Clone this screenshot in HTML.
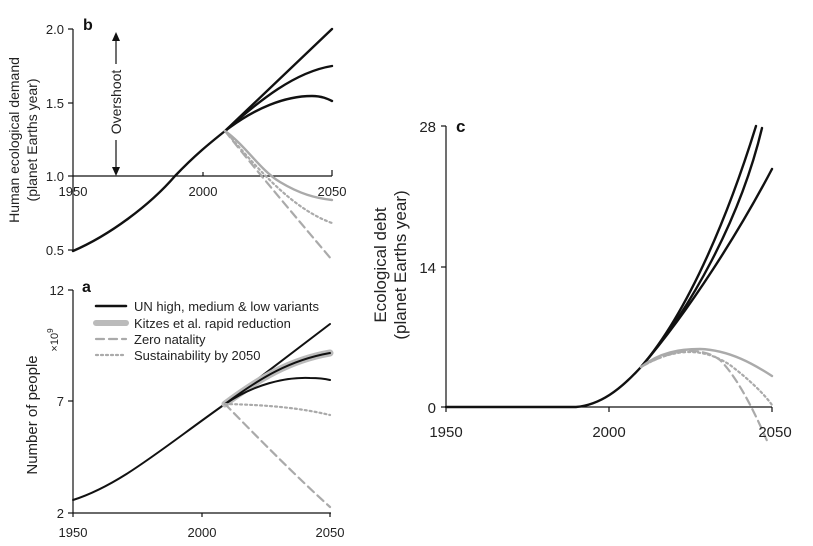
<!DOCTYPE html>
<html><head><meta charset="utf-8"><style>
body{margin:0;background:#fff}
svg{display:block;font-family:"Liberation Sans",sans-serif}
</style></head><body>
<svg width="813" height="546" viewBox="0 0 813 546">
<g fill="none" stroke="#111" stroke-width="1.2">
<line x1="73" y1="29" x2="73" y2="251"/>
<line x1="68" y1="29" x2="73" y2="29"/><line x1="68" y1="103" x2="73" y2="103"/><line x1="68" y1="176" x2="73" y2="176"/><line x1="68" y1="250" x2="73" y2="250"/>
<line x1="73" y1="176" x2="332" y2="176"/>
<line x1="203" y1="176" x2="203" y2="172"/><line x1="332" y1="176" x2="332" y2="170"/>
<line x1="73" y1="290" x2="73" y2="513"/><line x1="73" y1="513" x2="331" y2="513"/>
<line x1="68" y1="290" x2="73" y2="290"/><line x1="68" y1="401" x2="73" y2="401"/><line x1="68" y1="513" x2="73" y2="513"/>
<line x1="202" y1="513" x2="202" y2="517"/><line x1="330" y1="513" x2="330" y2="517"/><line x1="73" y1="513" x2="73" y2="517"/>
<line x1="446" y1="126" x2="446" y2="408"/><line x1="446" y1="407" x2="772" y2="407"/>
<line x1="441" y1="126" x2="446" y2="126"/><line x1="441" y1="267" x2="446" y2="267"/><line x1="441" y1="407" x2="446" y2="407"/>
<line x1="609" y1="407" x2="609" y2="412"/><line x1="772" y1="407" x2="772" y2="412"/><line x1="446" y1="407" x2="446" y2="412"/>
<line x1="116" y1="38" x2="116" y2="64"/><line x1="116" y1="140" x2="116" y2="168"/>
</g>
<polygon points="116,32 112,41 120,41" fill="#111"/>
<polygon points="116,176 112,167 120,167" fill="#111"/>
<text transform="translate(121,102) rotate(-90)" text-anchor="middle" font-size="14" fill="#222">Overshoot</text>

<g fill="none" stroke-linecap="round">
<path d="M73,251 C110,235 150,205 175,176 C195,155 210,143 225,131 L332,29" stroke="#111" stroke-width="2.4"/>
<path d="M225,131 C260,100 295,72 332,66" stroke="#111" stroke-width="2.4"/>
<path d="M225,131 C255,108 285,96 312,96 C322,96 328,99 332,101" stroke="#111" stroke-width="2.4"/>
<path d="M225,131 C245,145 260,170 280,182 C300,194 315,198 332,200" stroke="#aaa" stroke-width="2.4"/>
<path d="M225,131 C255,165 290,208 332,223" stroke="#aaa" stroke-width="2.2" stroke-dasharray="2,3"/>
<path d="M225,131 C260,175 300,222 332,260" stroke="#aaa" stroke-width="2.2" stroke-dasharray="8,5"/>
</g>
<g fill="none" stroke-linecap="round">
<path d="M73,500 C120,485 160,450 225,404" stroke="#111" stroke-width="2"/>
<path d="M225,404 L330,324" stroke="#111" stroke-width="2"/>
<path d="M225,404 C260,378 290,360 330,353" stroke="#bbb" stroke-width="7"/>
<path d="M225,404 C260,378 290,360 330,353" stroke="#111" stroke-width="2"/>
<path d="M225,404 C255,384 285,377 310,378 C320,378 326,379 330,380" stroke="#111" stroke-width="2"/>
<path d="M225,404 C270,405 300,408 330,415" stroke="#aaa" stroke-width="2.2" stroke-dasharray="2,3"/>
<path d="M225,404 C260,440 300,480 330,507" stroke="#aaa" stroke-width="2.2" stroke-dasharray="8,5"/>
<line x1="96" y1="306" x2="126" y2="306" stroke="#111" stroke-width="2.5"/>
<line x1="96" y1="323" x2="126" y2="323" stroke="#bbb" stroke-width="6"/>
<line x1="96" y1="339" x2="126" y2="339" stroke="#aaa" stroke-width="2.2" stroke-dasharray="8,5"/>
<line x1="96" y1="355" x2="126" y2="355" stroke="#aaa" stroke-width="2.2" stroke-dasharray="2,3"/>
</g>
<g fill="none" stroke-linecap="round">
<path d="M446,407 L576,407 C600,405 620,390 641,367 C690,310 730,210 756,126" stroke="#111" stroke-width="2.4"/>
<path d="M641,367 C690,310 740,220 762,128" stroke="#111" stroke-width="2.4"/>
<path d="M641,367 C690,310 740,230 772,169" stroke="#111" stroke-width="2.4"/>
<path d="M641,367 C660,352 680,349 700,349 C730,350 755,365 772,376" stroke="#aaa" stroke-width="2.4"/>
<path d="M641,367 C670,350 700,345 730,365 C750,380 765,395 772,405" stroke="#aaa" stroke-width="2.2" stroke-dasharray="2,3"/>
<path d="M641,367 C670,350 700,345 720,360 C740,380 758,420 768,443" stroke="#aaa" stroke-width="2.2" stroke-dasharray="8,5"/>
</g>

<g font-size="13" fill="#222">
<text x="64" y="34" text-anchor="end">2.0</text>
<text x="64" y="108" text-anchor="end">1.5</text>
<text x="64" y="181" text-anchor="end">1.0</text>
<text x="64" y="255" text-anchor="end">0.5</text>
<text x="73" y="196" text-anchor="middle">1950</text>
<text x="203" y="196" text-anchor="middle">2000</text>
<text x="332" y="196" text-anchor="middle">2050</text>
<text x="64" y="295" text-anchor="end">12</text>
<text x="64" y="406" text-anchor="end">7</text>
<text x="64" y="518" text-anchor="end">2</text>
<text x="73" y="537" text-anchor="middle">1950</text>
<text x="202" y="537" text-anchor="middle">2000</text>
<text x="330" y="537" text-anchor="middle">2050</text>
<text x="134" y="311">UN high, medium &amp; low variants</text>
<text x="134" y="328">Kitzes et al. rapid reduction</text>
<text x="134" y="344">Zero natality</text>
<text x="134" y="360">Sustainability by 2050</text>
</g>
<g font-size="15" fill="#222">
<text x="436" y="132" text-anchor="end">28</text>
<text x="436" y="273" text-anchor="end">14</text>
<text x="436" y="413" text-anchor="end">0</text>
<text x="446" y="437" text-anchor="middle">1950</text>
<text x="609" y="437" text-anchor="middle">2000</text>
<text x="775" y="437" text-anchor="middle">2050</text>
</g>
<g font-weight="bold" fill="#111">
<text x="83" y="30" font-size="16">b</text>
<text x="82" y="292" font-size="16">a</text>
<text x="456" y="132" font-size="17">c</text>
</g>
<g font-size="14" fill="#222">
<text transform="translate(19,140) rotate(-90)" text-anchor="middle">Human ecological demand</text>
<text transform="translate(37,140) rotate(-90)" text-anchor="middle">(planet Earths year)</text>
<text transform="translate(37,415) rotate(-90)" text-anchor="middle" font-size="15">Number of people</text>
<text transform="translate(58,340) rotate(-90)" text-anchor="middle" font-size="11">×10<tspan dy="-5" font-size="8">9</tspan></text>
</g>
<g font-size="17" fill="#222">
<text transform="translate(386,265) rotate(-90)" text-anchor="middle">Ecological debt</text>
<text transform="translate(406,265) rotate(-90)" text-anchor="middle">(planet Earths year)</text>
</g>
</svg>
</body></html>
